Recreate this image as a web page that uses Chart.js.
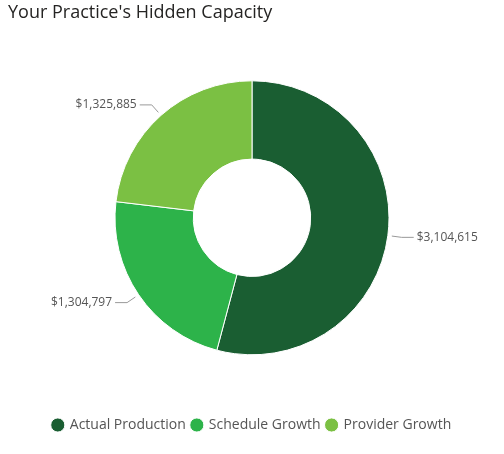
<!DOCTYPE html>
<html>
<head>
<meta charset="utf-8">
<script src="https://cdn.jsdelivr.net/npm/chart.js@4"></script>
<style>
  html, body { margin: 0; padding: 0; background: #fff; }
  #wrap { width: 504px; height: 454px; position: relative; }
</style>
</head>
<body>
<div id="wrap"><canvas id="c"></canvas></div>
<script>
const categories = ['Actual Production', 'Schedule Growth', 'Provider Growth'];
const values = [3104615, 1304797, 1325885];
const colors = ['#1a5e32', '#2db34a', '#7bc043'];

const fmt = v => '$' + v.toLocaleString('en-US');

// leader lines + value labels outside the ring
const outsideLabels = {
  id: 'outsideLabels',
  afterDatasetsDraw(chart) {
    const ctx = chart.ctx;
    const meta = chart.getDatasetMeta(0);
    ctx.save();
    ctx.font = '12px "Open Sans", sans-serif';
    ctx.fillStyle = '#555';
    ctx.strokeStyle = '#999';
    ctx.lineWidth = 1;
    meta.data.forEach((arc, i) => {
      const mid = (arc.startAngle + arc.endAngle) / 2;
      const r = arc.outerRadius;
      const cos = Math.cos(mid), sin = Math.sin(mid);
      const x1 = arc.x + cos * (r + 4), y1 = arc.y + sin * (r + 4);
      const x2 = arc.x + cos * (r + 14), y2 = arc.y + sin * (r + 14);
      const right = cos >= 0;
      const x3 = x2 + (right ? 12 : -12);
      ctx.beginPath();
      ctx.moveTo(x1, y1);
      ctx.lineTo(x2, y2);
      ctx.lineTo(x3, y2);
      ctx.stroke();
      ctx.textAlign = right ? 'left' : 'right';
      ctx.textBaseline = 'middle';
      ctx.fillText(fmt(values[i]), x3 + (right ? 3 : -3), y2);
    });
    ctx.restore();
  }
};

new Chart(document.getElementById('c'), {
  type: 'doughnut',
  data: {
    labels: categories,
    datasets: [{
      data: values,
      backgroundColor: colors,
      borderColor: '#fff',
      borderWidth: 1,
    }],
  },
  options: {
    responsive: true,
    maintainAspectRatio: false,
    animation: false,
    radius: 137,
    cutout: 83,
    layout: { padding: { top: 2, bottom: 12, left: 8, right: 8 } },
    plugins: {
      title: {
        display: true,
        text: "Your Practice's Hidden Capacity",
        align: 'start',
        color: '#252423',
        font: { family: '"Open Sans", sans-serif', size: 18, weight: 'normal' },
        padding: { top: 0, bottom: 0 },
      },
      legend: {
        position: 'bottom',
        labels: {
          usePointStyle: true,
          pointStyle: 'circle',
          boxWidth: 10,
          boxHeight: 10,
          padding: 6,
          color: '#555',
          font: { family: '"Open Sans", sans-serif', size: 14 },
        },
      },
      tooltip: { enabled: false },
    },
  },
  plugins: [outsideLabels],
});
</script>
</body>
</html>
